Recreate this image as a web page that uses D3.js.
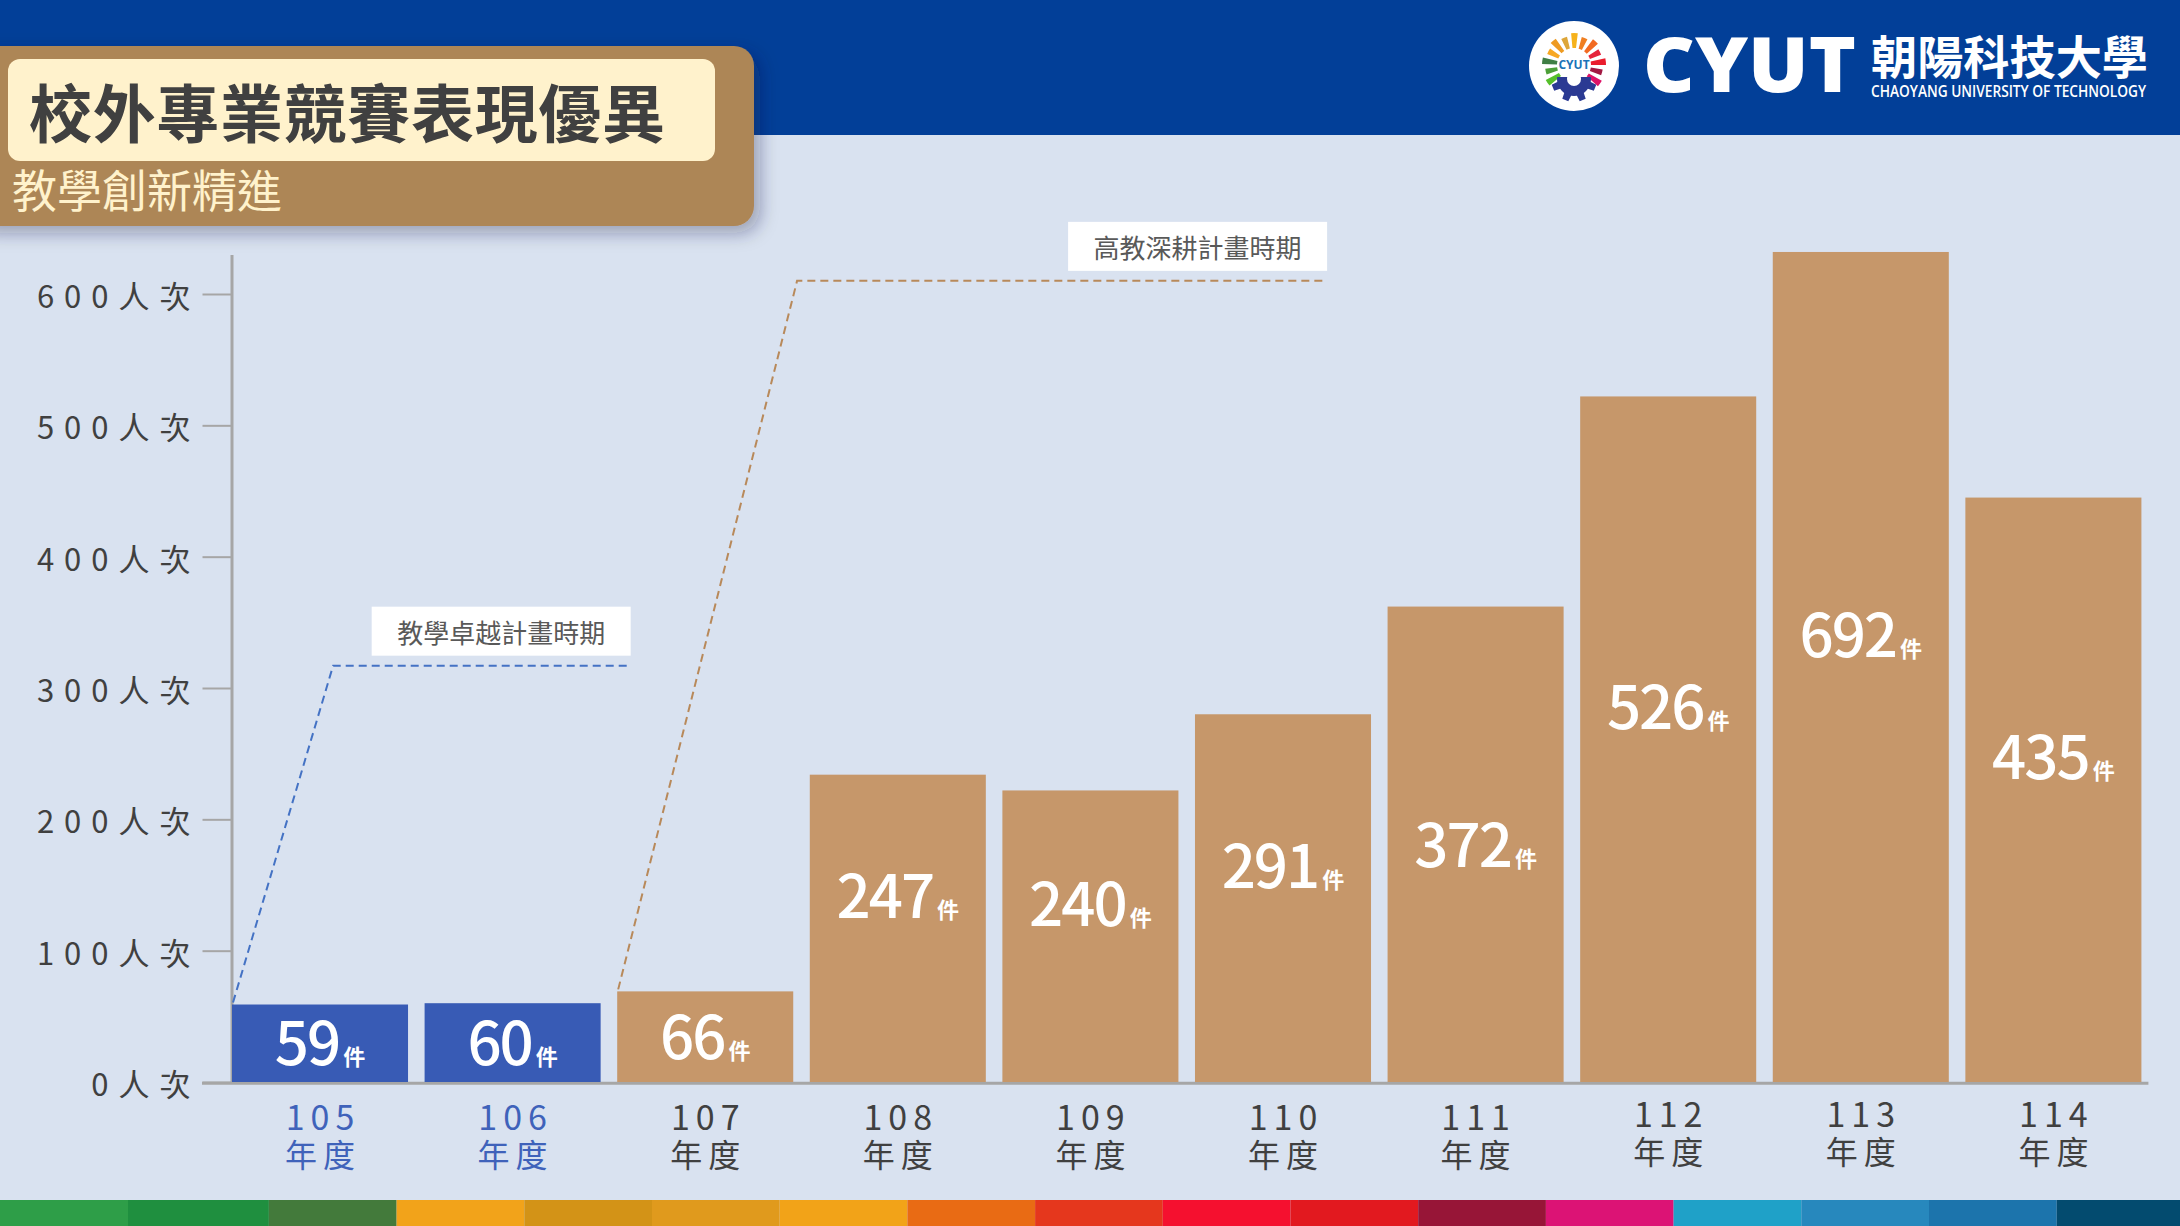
<!DOCTYPE html>
<html><head><meta charset="utf-8">
<script src="https://cdn.jsdelivr.net/npm/d3@7"></script>
<style>
html,body{margin:0;padding:0;background:#D9E2F0;overflow:hidden}
svg{display:block}
</style></head><body>
<svg id="c" width="2180" height="1226"></svg>
<script>
// ---------------- data ----------------
const years = ['105','106','107','108','109','110','111','112','113','114'];
const yearSuffix = '年度';
const participants = [59, 60, 69, 234, 222, 280, 362, 522, 632, 445];   // 人次 (bar heights)
const cases = [59, 60, 66, 247, 240, 291, 372, 526, 692, 435];          // 件 (bar labels)
const phase = ['卓越','卓越','深耕','深耕','深耕','深耕','深耕','深耕','深耕','深耕'];
const yTicks = [0, 100, 200, 300, 400, 500, 600];
const yUnit = '人次';
const caseUnit = '件';
const title = '校外專業競賽表現優異';
const subtitle = '教學創新精進';
const annTexts = ['教學卓越計畫時期', '高教深耕計畫時期'];
const annStartYear = ['105', '107'];
const annElbowValue = [317, 610];
const stripeColors = ['#2E9E48','#1F8F3F','#437A3B','#F2A31A','#D39317','#E09A1D','#F2A318','#E96B14',
  '#E5371D','#F5102F','#E2191F','#971537','#DC1375','#1FA1C8','#2788BD','#1C74AC','#034B6F'];
const rayColors = ['#56C02B','#4C9F38','#3F7E44','#F7A823','#EE9B22','#DDA63A','#F6B21B',
  '#F07F22','#F26A22','#E5243B','#EA1D2D','#A21942','#DD1367'];

// ---------------- layout ----------------
const W = 2180, H = 1226;
const CJK = '"Noto Sans CJK TC","Noto Sans",sans-serif';
const phaseColor = {'卓越': '#385BB5', '深耕': '#C6976A'};
const phaseText = {'卓越': '#3F62BA', '深耕': '#404040'};
const labelFrac = [0.5, 0.5, 0.5, 0.605, 0.61, 0.587, 0.498, 0.547, 0.538, 0.556];
const annElbowStep = [0.525, 2.934];
const annEndStep = [2.07, 5.686];
const annColor = ['#4472C4', '#B8895A'];

const svg = d3.select('#c');
const defs = svg.append('defs');
const f = defs.append('filter').attr('id','sh').attr('x','-10%').attr('y','-20%').attr('width','130%').attr('height','160%');
f.append('feDropShadow').attr('dx',6).attr('dy',7).attr('stdDeviation',9).attr('flood-color','#1a2440').attr('flood-opacity',0.35);

svg.append('rect').attr('width',W).attr('height',H).attr('fill','#D9E2F0');
svg.append('rect').attr('width',W).attr('height',135).attr('fill','#023F98');

// ---------------- scales ----------------
const x = d3.scaleBand().domain(years).range([232, 2141.4]).paddingInner(0.086).paddingOuter(0);
const y = d3.scaleLinear().domain([0, 630]).range([1082, 254.6]);
const xs = i => x.range()[0] + i * x.step();

// baseline
svg.append('line').attr('x1',202).attr('x2',x.range()[1]+7).attr('y1',y(0)+1.2).attr('y2',y(0)+1.2)
  .attr('stroke','#A6A6A6').attr('stroke-width',3);

// y axis
const yAxis = svg.append('g').attr('transform','translate(231.5,0)')
  .call(d3.axisLeft(y).tickValues(yTicks).tickSize(29).tickSizeOuter(0).tickPadding(0)
    .tickFormat(d => d + yUnit));
yAxis.select('.domain').attr('stroke','#A6A6A6').attr('stroke-width',3);
yAxis.selectAll('.tick line').attr('stroke','#A6A6A6').attr('stroke-width',2);
yAxis.selectAll('.tick text').attr('x',-31).attr('dy',null).attr('dominant-baseline','central')
  .attr('fill','#404040').style('font-family',CJK).style('font-size','31px').style('letter-spacing','10px');

// bars
svg.append('g').selectAll('rect').data(years).join('rect')
  .attr('x', d => x(d)).attr('width', x.bandwidth())
  .attr('y', (d,i) => y(participants[i])).attr('height', (d,i) => y(0) - y(participants[i]))
  .attr('fill', (d,i) => phaseColor[phase[i]]);

// bar labels
const lab = svg.append('g').selectAll('text').data(years).join('text')
  .attr('x', d => x(d) + x.bandwidth()/2)
  .attr('y', (d,i) => y(participants[i]*labelFrac[i]) + 22)
  .attr('text-anchor','middle').attr('fill','#fff').style('font-family',CJK);
lab.append('tspan').text((d,i) => cases[i]).style('font-size','60px').style('font-weight',500).style('letter-spacing','-2px');
lab.append('tspan').text(caseUnit).attr('dx',4).style('font-size','22px').style('font-weight',700);

// x axis labels (two lines in one text)
const xAxis = svg.append('g').attr('transform',`translate(0,${y(0)})`)
  .call(d3.axisBottom(x).tickSize(0).tickFormat(''));
xAxis.select('.domain').remove();
xAxis.selectAll('.tick').each(function(d,i){
  const g = d3.select(this);
  g.select('text').remove();
  const c = phaseText[phase[i]];
  const up = i >= 7 ? -3 : 0;
  const t = g.append('text').attr('text-anchor','middle').attr('fill',c)
    .style('font-family',CJK).style('letter-spacing','6px');
  t.append('tspan').text(d).attr('x',3).attr('y',48 + up).style('font-size','34px');
  t.append('tspan').text(yearSuffix).attr('x',3).attr('y',85 + up).style('font-size','32px');
});

// annotations
annTexts.forEach((t, k) => {
  const si = years.indexOf(annStartYear[k]);
  const x0 = x(annStartYear[k]), y0 = y(participants[si]);
  const ex = xs(annElbowStep[k]), ey = y(annElbowValue[k]);
  const endX = xs(annEndStep[k]);
  const p = d3.path(); p.moveTo(x0 + 1, y0 - 2); p.lineTo(ex, ey); p.lineTo(endX, ey);
  svg.append('path').attr('d', p.toString()).attr('fill','none').attr('stroke',annColor[k])
    .attr('stroke-width',2).attr('stroke-dasharray','8 5');
  const bw = 259, bh = 49;
  svg.append('rect').attr('x', endX - bw).attr('y', ey - 10 - bh).attr('width', bw).attr('height', bh).attr('fill','#fff');
  svg.append('text').text(t).attr('x', endX - bw/2).attr('y', ey - 10 - bh/2).attr('dominant-baseline','central')
    .attr('text-anchor','middle').attr('fill','#595959').style('font-family',CJK).style('font-size','26px');
});

// title box
svg.append('rect').attr('x',-30).attr('y',46).attr('width',784).attr('height',180).attr('rx',20)
  .attr('fill','#AD8657').attr('filter','url(#sh)');
svg.append('rect').attr('x',8).attr('y',59).attr('width',707).attr('height',102).attr('rx',12).attr('fill','#FFF2CC');
svg.append('text').text(title).attr('x',29).attr('y',137).attr('fill','#404040')
  .attr('textLength',636).attr('lengthAdjust','spacing')
  .style('font-family',CJK).style('font-size','63px').style('font-weight',700);
svg.append('text').text(subtitle).attr('x',12).attr('y',208).attr('fill','#FFF2CC')
  .style('font-family',CJK).style('font-size','45px').style('font-weight',400);

// logo
const lg = svg.append('g');
const cx = 1574, cy = 65;
lg.append('ellipse').attr('cx',cx).attr('cy',cy+1).attr('rx',45).attr('ry',45).attr('fill','#fff');
const arc = d3.arc();
rayColors.forEach((c, i) => {
  const a = (-124 + i * 20.8) * Math.PI / 180;
  const w = 6 * Math.PI / 180;
  lg.append('path').attr('transform',`translate(${cx},${cy})`)
    .attr('d', arc({innerRadius: 17, outerRadius: (i % 2 ? 29 : 32), startAngle: a - w, endAngle: a + w}))
    .attr('fill', c);
});
defs.append('clipPath').attr('id','gc').append('rect').attr('x',cx-30).attr('y',cy+12).attr('width',60).attr('height',40);
const gp = d3.path();
const nT = 8, rI = 17, rO = 23, gcy = cy + 14;
for (let i = 0; i < nT; i++) {
  const s = 2 * Math.PI / nT;
  const pts = [[rI, 0], [rI, 0.22], [rO, 0.32], [rO, 0.68], [rI, 0.78]];
  pts.forEach(([r, fr], j) => {
    const a = i * s + fr * s;
    const px = cx + r * Math.sin(a), py = gcy - r * Math.cos(a);
    if (i === 0 && j === 0) gp.moveTo(px, py); else gp.lineTo(px, py);
  });
}
gp.closePath();
const gg = lg.append('g').attr('clip-path','url(#gc)');
gg.append('path').attr('d', gp.toString()).attr('fill','#2B3A93');
gg.append('circle').attr('cx',cx).attr('cy',gcy).attr('r',7).attr('fill','#fff');
lg.append('text').text('CYUT').attr('x',cx).attr('y',cy+4).attr('text-anchor','middle').attr('fill','#1A73B8')
  .style('font-family','"Open Sans",sans-serif').style('font-size','12px').style('font-weight',700);

svg.append('text').text('CYUT').attr('x',1643).attr('y',92).attr('fill','#fff')
  .attr('textLength',213).attr('lengthAdjust','spacingAndGlyphs')
  .style('font-family','"Open Sans",sans-serif').style('font-size','77px').style('font-weight',800);
const nm = svg.append('text').attr('fill','#fff');
nm.append('tspan').text('朝陽科技大學').attr('x',1871).attr('y',74)
  .attr('textLength',277).attr('lengthAdjust','spacingAndGlyphs')
  .style('font-family',CJK).style('font-size','46px').style('font-weight',700);
nm.append('tspan').text('CHAOYANG UNIVERSITY OF TECHNOLOGY').attr('x',1871).attr('y',97)
  .attr('textLength',275).attr('lengthAdjust','spacingAndGlyphs')
  .style('font-family','"Open Sans",sans-serif').style('font-size','15.5px').style('font-weight',600);

// bottom stripe
const edge = k => k <= 0 ? 0 : (k === 1 ? 128 : (k >= 17 ? W : 13.5 + 127.7 * k));
svg.append('g').selectAll('rect').data(stripeColors).join('rect')
  .attr('x', (d,k) => edge(k))
  .attr('width', (d,k) => edge(k + 1) - edge(k))
  .attr('y', 1200).attr('height', 26).attr('fill', d => d);
</script>
</body></html>
